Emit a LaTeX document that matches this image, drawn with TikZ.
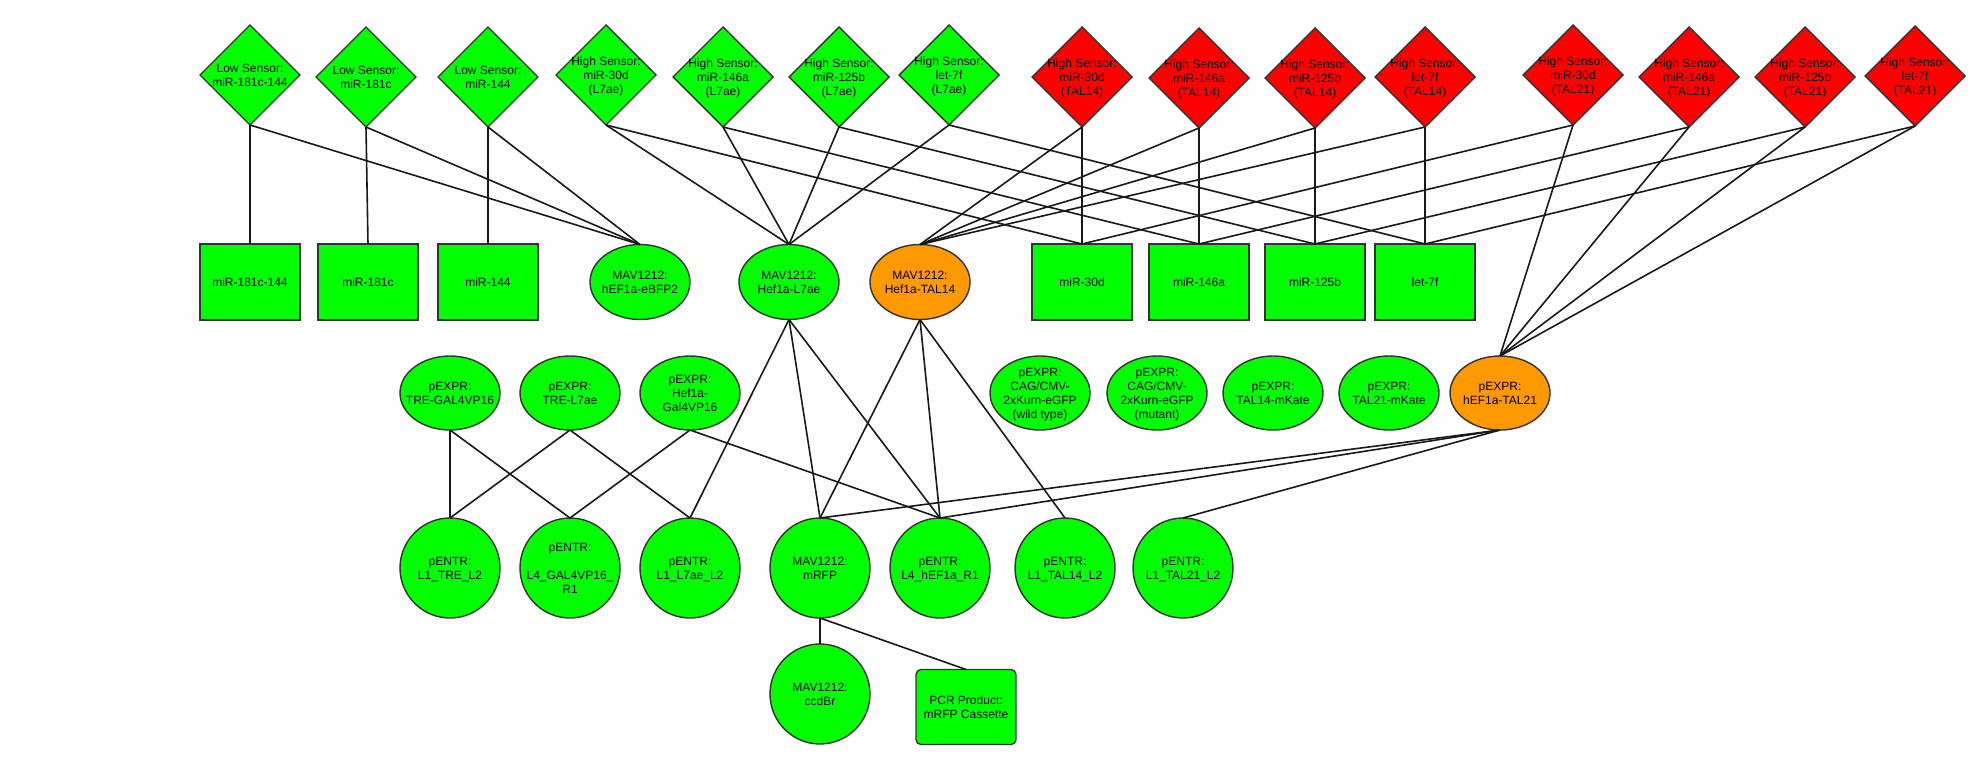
\documentclass[tikz,border=0pt]{standalone}
\usepackage{fontspec}
\setmainfont{Liberation Sans}
\usetikzlibrary{shapes.geometric}
\definecolor{gr}{RGB}{0,255,0}
\definecolor{rd}{RGB}{255,0,0}
\definecolor{og}{RGB}{255,153,0}
\definecolor{bd}{RGB}{51,51,51}
\newcommand\zt[1]{\makebox[0pt]{\smash{\raisebox{-4.5pt}{\begin{tabular}{@{}c@{}}#1\end{tabular}}}}}
\tikzset{
  base/.style={draw=bd, line width=1.4pt, inner sep=0pt, outer sep=0pt, font=\fontsize{12}{14}\selectfont},
  dia/.style={base, diamond, minimum width=100pt, minimum height=100pt},
  grn/.style={fill=gr},
  rdd/.style={fill=rd},
  orn/.style={fill=og},
  sq/.style={base, rectangle, minimum width=100pt, minimum height=76pt, fill=gr},
  ell/.style={base, ellipse, minimum width=100pt, minimum height=75pt},
  circ/.style={base, ellipse, minimum width=100pt, minimum height=100pt, fill=gr},
  rr/.style={base, rectangle, rounded corners=5pt, minimum width=100pt, minimum height=75pt, fill=gr},
  edge/.style={line width=1.6pt, black!90}
}
\begin{document}
\begin{tikzpicture}[x=1pt, y=-1pt]
\useasboundingbox[fill=white] (0,0) rectangle (1985,765);
% top row: sensors
\node[dia,grn] (d1) at (250,75) {\zt{Low Sensor:\\miR-181c-144}};
\node[dia,grn] (d2) at (366,77) {\zt{Low Sensor:\\miR-181c}};
\node[dia,grn] (d3) at (488,77) {\zt{Low Sensor:\\miR-144}};
\node[dia,grn] (d4) at (606,75) {\zt{High Sensor:\\miR-30d\\(L7ae)}};
\node[dia,grn] (d5) at (723,77) {\zt{High Sensor:\\miR-146a\\(L7ae)}};
\node[dia,grn] (d6) at (839,77) {\zt{High Sensor:\\miR-125b\\(L7ae)}};
\node[dia,grn] (d7) at (949,75) {\zt{High Sensor:\\let-7f\\(L7ae)}};
\node[dia,rdd] (d8) at (1082,77) {\zt{High Sensor:\\miR-30d\\(TAL14)}};
\node[dia,rdd] (d9) at (1199,78) {\zt{High Sensor:\\miR-146a\\(TAL14)}};
\node[dia,rdd] (d10) at (1315,78) {\zt{High Sensor:\\miR-125b\\(TAL14)}};
\node[dia,rdd] (d11) at (1425,77) {\zt{High Sensor:\\let-7f\\(TAL14)}};
\node[dia,rdd] (d12) at (1573,75) {\zt{High Sensor:\\miR-30d\\(TAL21)}};
\node[dia,rdd] (d13) at (1689,77) {\zt{High Sensor:\\miR-146a\\(TAL21)}};
\node[dia,rdd] (d14) at (1805,77) {\zt{High Sensor:\\miR-125b\\(TAL21)}};
\node[dia,rdd] (d15) at (1915,76) {\zt{High Sensor:\\let-7f\\(TAL21)}};
% second row
\node[sq] (s1) at (250,282) {\zt{miR-181c-144}};
\node[sq] (s2) at (368,282) {\zt{miR-181c}};
\node[sq] (s3) at (488,282) {\zt{miR-144}};
\node[ell,grn] (e1) at (640,282) {\zt{MAV1212:\\hEF1a-eBFP2}};
\node[ell,grn] (e2) at (789,282) {\zt{MAV1212:\\Hef1a-L7ae}};
\node[ell,orn] (e3) at (920,282) {\zt{MAV1212:\\Hef1a-TAL14}};
\node[sq] (s4) at (1082,282) {\zt{miR-30d}};
\node[sq] (s5) at (1199,282) {\zt{miR-146a}};
\node[sq] (s6) at (1315,282) {\zt{miR-125b}};
\node[sq] (s7) at (1425,282) {\zt{let-7f}};
% third row
\node[ell,grn,minimum height=74pt] (p1) at (450,393) {\zt{pEXPR:\\TRE-GAL4VP16}};
\node[ell,grn,minimum height=74pt] (p2) at (570,393) {\zt{pEXPR:\\TRE-L7ae}};
\node[ell,grn,minimum height=74pt] (p3) at (690,393) {\zt{pEXPR:\\Hef1a-\\Gal4VP16}};
\node[ell,grn,minimum height=74pt] (p4) at (1040,393) {\zt{pEXPR:\\CAG/CMV-\\2xKurn-eGFP\\(wild type)}};
\node[ell,grn,minimum height=74pt] (p5) at (1157,393) {\zt{pEXPR:\\CAG/CMV-\\2xKurn-eGFP\\(mutant)}};
\node[ell,grn,minimum height=74pt] (p6) at (1273,393) {\zt{pEXPR:\\TAL14-mKate}};
\node[ell,grn,minimum height=74pt] (p7) at (1389,393) {\zt{pEXPR:\\TAL21-mKate}};
\node[ell,orn,minimum height=74pt] (p8) at (1500,393) {\zt{pEXPR:\\hEF1a-TAL21}};
% fourth row
\node[circ] (n1) at (450,568) {\zt{pENTR:\\L1\_TRE\_L2}};
\node[circ] (n2) at (570,568) {\zt{pENTR:\\ \\L4\_GAL4VP16\_\\R1}};
\node[circ] (n3) at (690,568) {\zt{pENTR:\\L1\_L7ae\_L2}};
\node[circ] (n4) at (820,568) {\zt{MAV1212:\\mRFP}};
\node[circ] (n5) at (940,568) {\zt{pENTR:\\L4\_hEF1a\_R1}};
\node[circ] (n6) at (1065,568) {\zt{pENTR:\\L1\_TAL14\_L2}};
\node[circ] (n7) at (1183,568) {\zt{pENTR:\\L1\_TAL21\_L2}};
% fifth row
\node[circ] (c1) at (820,694) {\zt{MAV1212:\\ccdBr}};
\node[rr] (r1) at (966,707) {\zt{PCR Product:\\mRFP Cassette}};
% edges
\foreach \a/\b in {d1/s1,d1/e1,d2/s2,d2/e1,d3/s3,d3/e1,
  d4/e2,d4/s4,d5/e2,d5/s5,d6/e2,d6/s6,d7/e2,d7/s7,
  d8/s4,d8/e3,d9/s5,d9/e3,d10/s6,d10/e3,d11/s7,d11/e3,
  d12/p8,d12/s4,d13/p8,d13/s5,d14/p8,d14/s6,d15/p8,d15/s7,
  e2/n3,e2/n4,e2/n5,e3/n4,e3/n5,e3/n6,
  p1/n1,p1/n2,p2/n1,p2/n3,p3/n2,p3/n5,
  p8/n4,p8/n5,p8/n7,n4/c1,n4/r1}
  \draw[edge] (\a.south) -- (\b.north);
\end{tikzpicture}
\end{document}
